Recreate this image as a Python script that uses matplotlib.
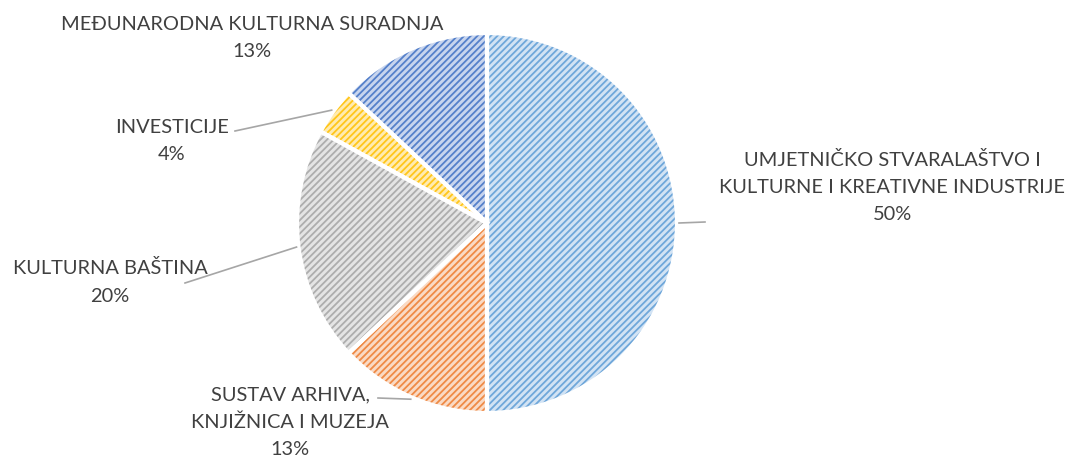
import numpy as np
import matplotlib.pyplot as plt

# data, clockwise from 12 o'clock
labels = ["UMJETNIČKO STVARALAŠTVO I\nKULTURNE I KREATIVNE INDUSTRIJE",
          "SUSTAV ARHIVA,\nKNJIŽNICA I MUZEJA",
          "KULTURNA BAŠTINA",
          "INVESTICIJE",
          "MEĐUNARODNA KULTURNA SURADNJA"]
shares = [50, 13, 20, 4, 13]
pct_labels = ["50%", "13%", "20%", "4%", "13%"]

face_cols = ["#D2E3F4", "#FADAC4", "#E4E4E4", "#FFEBB0", "#C8D5EE"]
line_cols = ["#6FA7DA", "#EF8A45", "#ADADAD", "#FFC61A", "#5580CA"]

# label centres (pixel coords, y from top) and whether a leader line is drawn
label_pos = [(892, 187), (290, 422), (110, 282), (172, 141), (252, 38)]
leader = [True, True, True, True, False]

plt.rcParams['font.family'] = ['Lato', 'DejaVu Sans']
plt.rcParams['hatch.linewidth'] = 1.3

W, H = 1068, 461
fig = plt.figure(figsize=(W / 100, H / 100), dpi=100)
ax = fig.add_axes([0, 0, 1, 1])

cx, cy, r = 487, H - 223, 190

wedges, _ = ax.pie(shares, center=(cx, cy), radius=r, startangle=90,
                   counterclock=False, colors=face_cols,
                   wedgeprops=dict(linewidth=0), frame=True)
for w, lc in zip(wedges, line_cols):
    w.set_hatch('/////')
    w.set_edgecolor(lc)
    w.set_linewidth(0)

# white separators on top
ax.pie(shares, center=(cx, cy), radius=r, startangle=90, counterclock=False,
       colors=['none'] * len(shares),
       wedgeprops=dict(linewidth=3, edgecolor='white', fill=False), frame=True)
ax.set_xlim(0, W)
ax.set_ylim(0, H)
ax.set_aspect('equal')
ax.axis('off')

for w, lab, pct, (lx, ly), ld in zip(wedges, labels, pct_labels, label_pos, leader):
    ax.text(lx, H - ly, lab + "\n" + pct, ha='center', va='center',
            fontsize=14.4, color='#404040', linespacing=1.72)
    if ld:
        ang = np.deg2rad((w.theta1 + w.theta2) / 2)
        ex, ey = cx + (r + 2) * np.cos(ang), cy + (r + 2) * np.sin(ang)
        if ex > cx:
            sx, sy = 705, H - 222
        elif lab.startswith("SUSTAV"):
            sx, sy = 378, H - 398
        elif lab.startswith("KULTURNA"):
            sx, sy = 185, H - 283
        else:
            sx, sy = 235, H - 131
        ax.plot([sx, ex], [sy, ey], color='#A6A6A6', lw=1.2)

fig.savefig("out.png", dpi=100)
